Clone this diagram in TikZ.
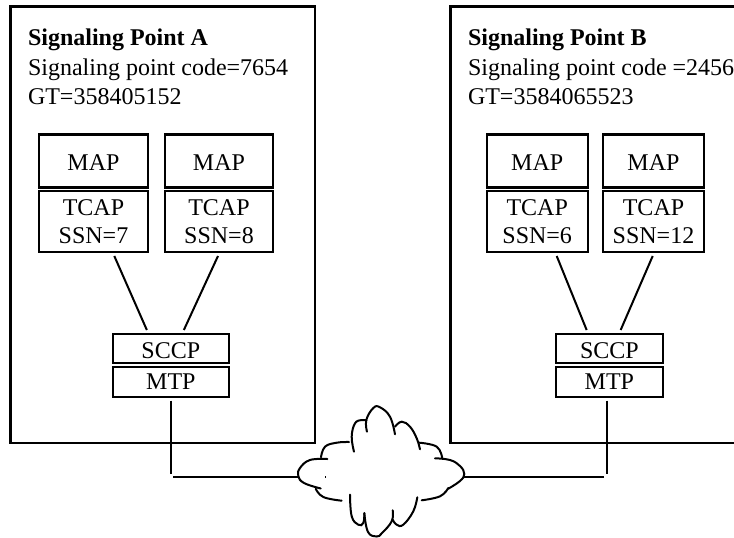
\documentclass[tikz,border=0pt]{standalone}
\usepackage{fontspec}
\setmainfont{Liberation Serif}
\usetikzlibrary{calc}
\tikzset{
  base/.style={font=\fontsize{24}{28.5}\selectfont},
  txt/.style={base,anchor=base west,inner sep=0pt,outer sep=0pt},
  unit/.style={base,draw,line width=2.2pt,inner sep=0pt,outer sep=0pt,align=center,anchor=center},
  stack/.style={unit,minimum width=#1},
  wire/.style={line width=2pt,line cap=butt},
  puff/.style={line width=2pt,line cap=round,smooth,tension=0.7}
}
\begin{document}
\begin{tikzpicture}[x=1pt,y=-1pt]
\useasboundingbox (0,0) rectangle (734,538);
\draw[line width=2.2pt] (315,443) -- (315,6.5) -- (10.5,6.5) -- (10.5,443) -- cycle;
\draw[line width=2.2pt] (734,6.5) -- (450.5,6.5) -- (450.5,443) -- (734,443);
\node[txt] (ta1) at (28,45.7) {\bfseries Signaling Point A};
\node[txt] (ta2) at (28,75) {Signaling point code=7654};
\node[txt] (ta3) at (28,104) {GT=358405152};
\node[txt] (tb1) at (468,45.7) {\bfseries Signaling Point B};
\node[txt] (tb2) at (468,75) {Signaling point code =2456};
\node[txt] (tb3) at (468,104) {GT=3584065523};
\node[stack=109pt,minimum height=53pt,text height=18pt,text depth=0pt] (mapA1) at (93.5,161) {MAP};
\node[stack=108pt,minimum height=53pt,text height=18pt,text depth=0pt] (mapA2) at (219,161) {MAP};
\node[stack=101pt,minimum height=53pt,text height=18pt,text depth=0pt] (mapB1) at (537.2,161) {MAP};
\node[stack=101pt,minimum height=53pt,text height=18pt,text depth=0pt] (mapB2) at (653.5,161) {MAP};
\node[stack=109pt,minimum height=61pt] (tcapA1) at (93.5,221.5) {TCAP\\SSN=7};
\node[stack=108pt,minimum height=61pt] (tcapA2) at (219,221.5) {TCAP\\SSN=8};
\node[stack=101pt,minimum height=61pt] (tcapB1) at (537.2,221.5) {TCAP\\SSN=6};
\node[stack=101pt,minimum height=61pt] (tcapB2) at (653.5,221.5) {TCAP\\SSN=12};
\node[stack=116.3pt,minimum height=29pt,text height=19.6pt,text depth=0pt] (sccpA) at (170.85,348.5) {SCCP};
\node[stack=116.3pt,minimum height=30pt,text height=15.2pt,text depth=0pt] (mtpA) at (170.85,381.7) {MTP};
\node[stack=107.3pt,minimum height=29pt,text height=19.6pt,text depth=0pt] (sccpB) at (609.35,348.5) {SCCP};
\node[stack=107.3pt,minimum height=30pt,text height=15.2pt,text depth=0pt] (mtpB) at (609.35,381.7) {MTP};
\coordinate (cloudL) at (298,477);
\coordinate (cloudR) at (464,477);
\draw[wire] ($(tcapA1.south)+(20.8,4)$) -- ($(sccpA.north)+(-24,-4)$);
\draw[wire] ($(tcapA2.south)+(-1,4)$) -- ($(sccpA.north)+(13,-4)$);
\draw[wire] ($(tcapB1.south)+(19.5,4)$) -- ($(sccpB.north)+(-22.7,-4)$);
\draw[wire] ($(tcapB2.south)+(-0.8,4)$) -- ($(sccpB.north)+(11.3,-4)$);
\draw[wire] ($(mtpA.south)+(0.15,4)$) -- ($(mtpA.south)+(0.15,77)$);
\draw[wire] ($(mtpB.south)+(-2.35,4)$) -- ($(mtpB.south)+(-2.35,77)$);
\draw[wire] ($(mtpA.south)+(2.15,80.3)$) -- (cloudL);
\draw[wire] ($(mtpB.south)+(-5.35,80.3)$) -- (cloudR);
% cloud outline
\draw[puff] plot coordinates {(327.3,459) (310,460) (300,468) (298.3,476) (304,483) (320.7,488.5)};
\draw[puff] plot coordinates {(321,457.3) (325,446.7) (336.7,442.7) (349,442)};
\draw[puff] plot coordinates {(354,451.7) (351.7,436.7) (355,423.3) (361.7,420) (366.5,420.5)};
\draw[puff] plot coordinates {(367,431.7) (366.3,420) (373.3,408) (380,407.3) (390,416.7) (395,434.3)};
\draw[puff] plot coordinates {(395,426.7) (401.7,421.7) (410,426.7) (416.7,438.3) (420,449.3)};
\draw[puff] plot coordinates {(419.3,442.7) (436.7,446.7) (442.3,458.3)};
\draw[puff] plot coordinates {(435,458.3) (450,460) (460,466) (464.3,474) (460,481) (448.3,488.7)};
\draw[puff] plot coordinates {(448.3,488) (440,496.3) (421.7,500.3)};
\draw[puff] plot coordinates {(417.3,497.3) (413.3,511.3) (403.3,524.7) (396.7,524.7) (392.7,519.7)};
\draw[puff] plot coordinates {(392.7,510.3) (391.7,521.3) (382,533) (376.7,536.5) (368,532) (364.3,513.3)};
\draw[puff] plot coordinates {(364.3,513) (363.3,523) (358.3,524.7) (351.7,516.3) (350,494.7)};
\draw[puff] plot coordinates {(315.7,488.7) (323.3,497) (341.7,500.7)};
\draw[line width=0.8pt] (325,476) -- (325,477.5);
\end{tikzpicture}
\end{document}
